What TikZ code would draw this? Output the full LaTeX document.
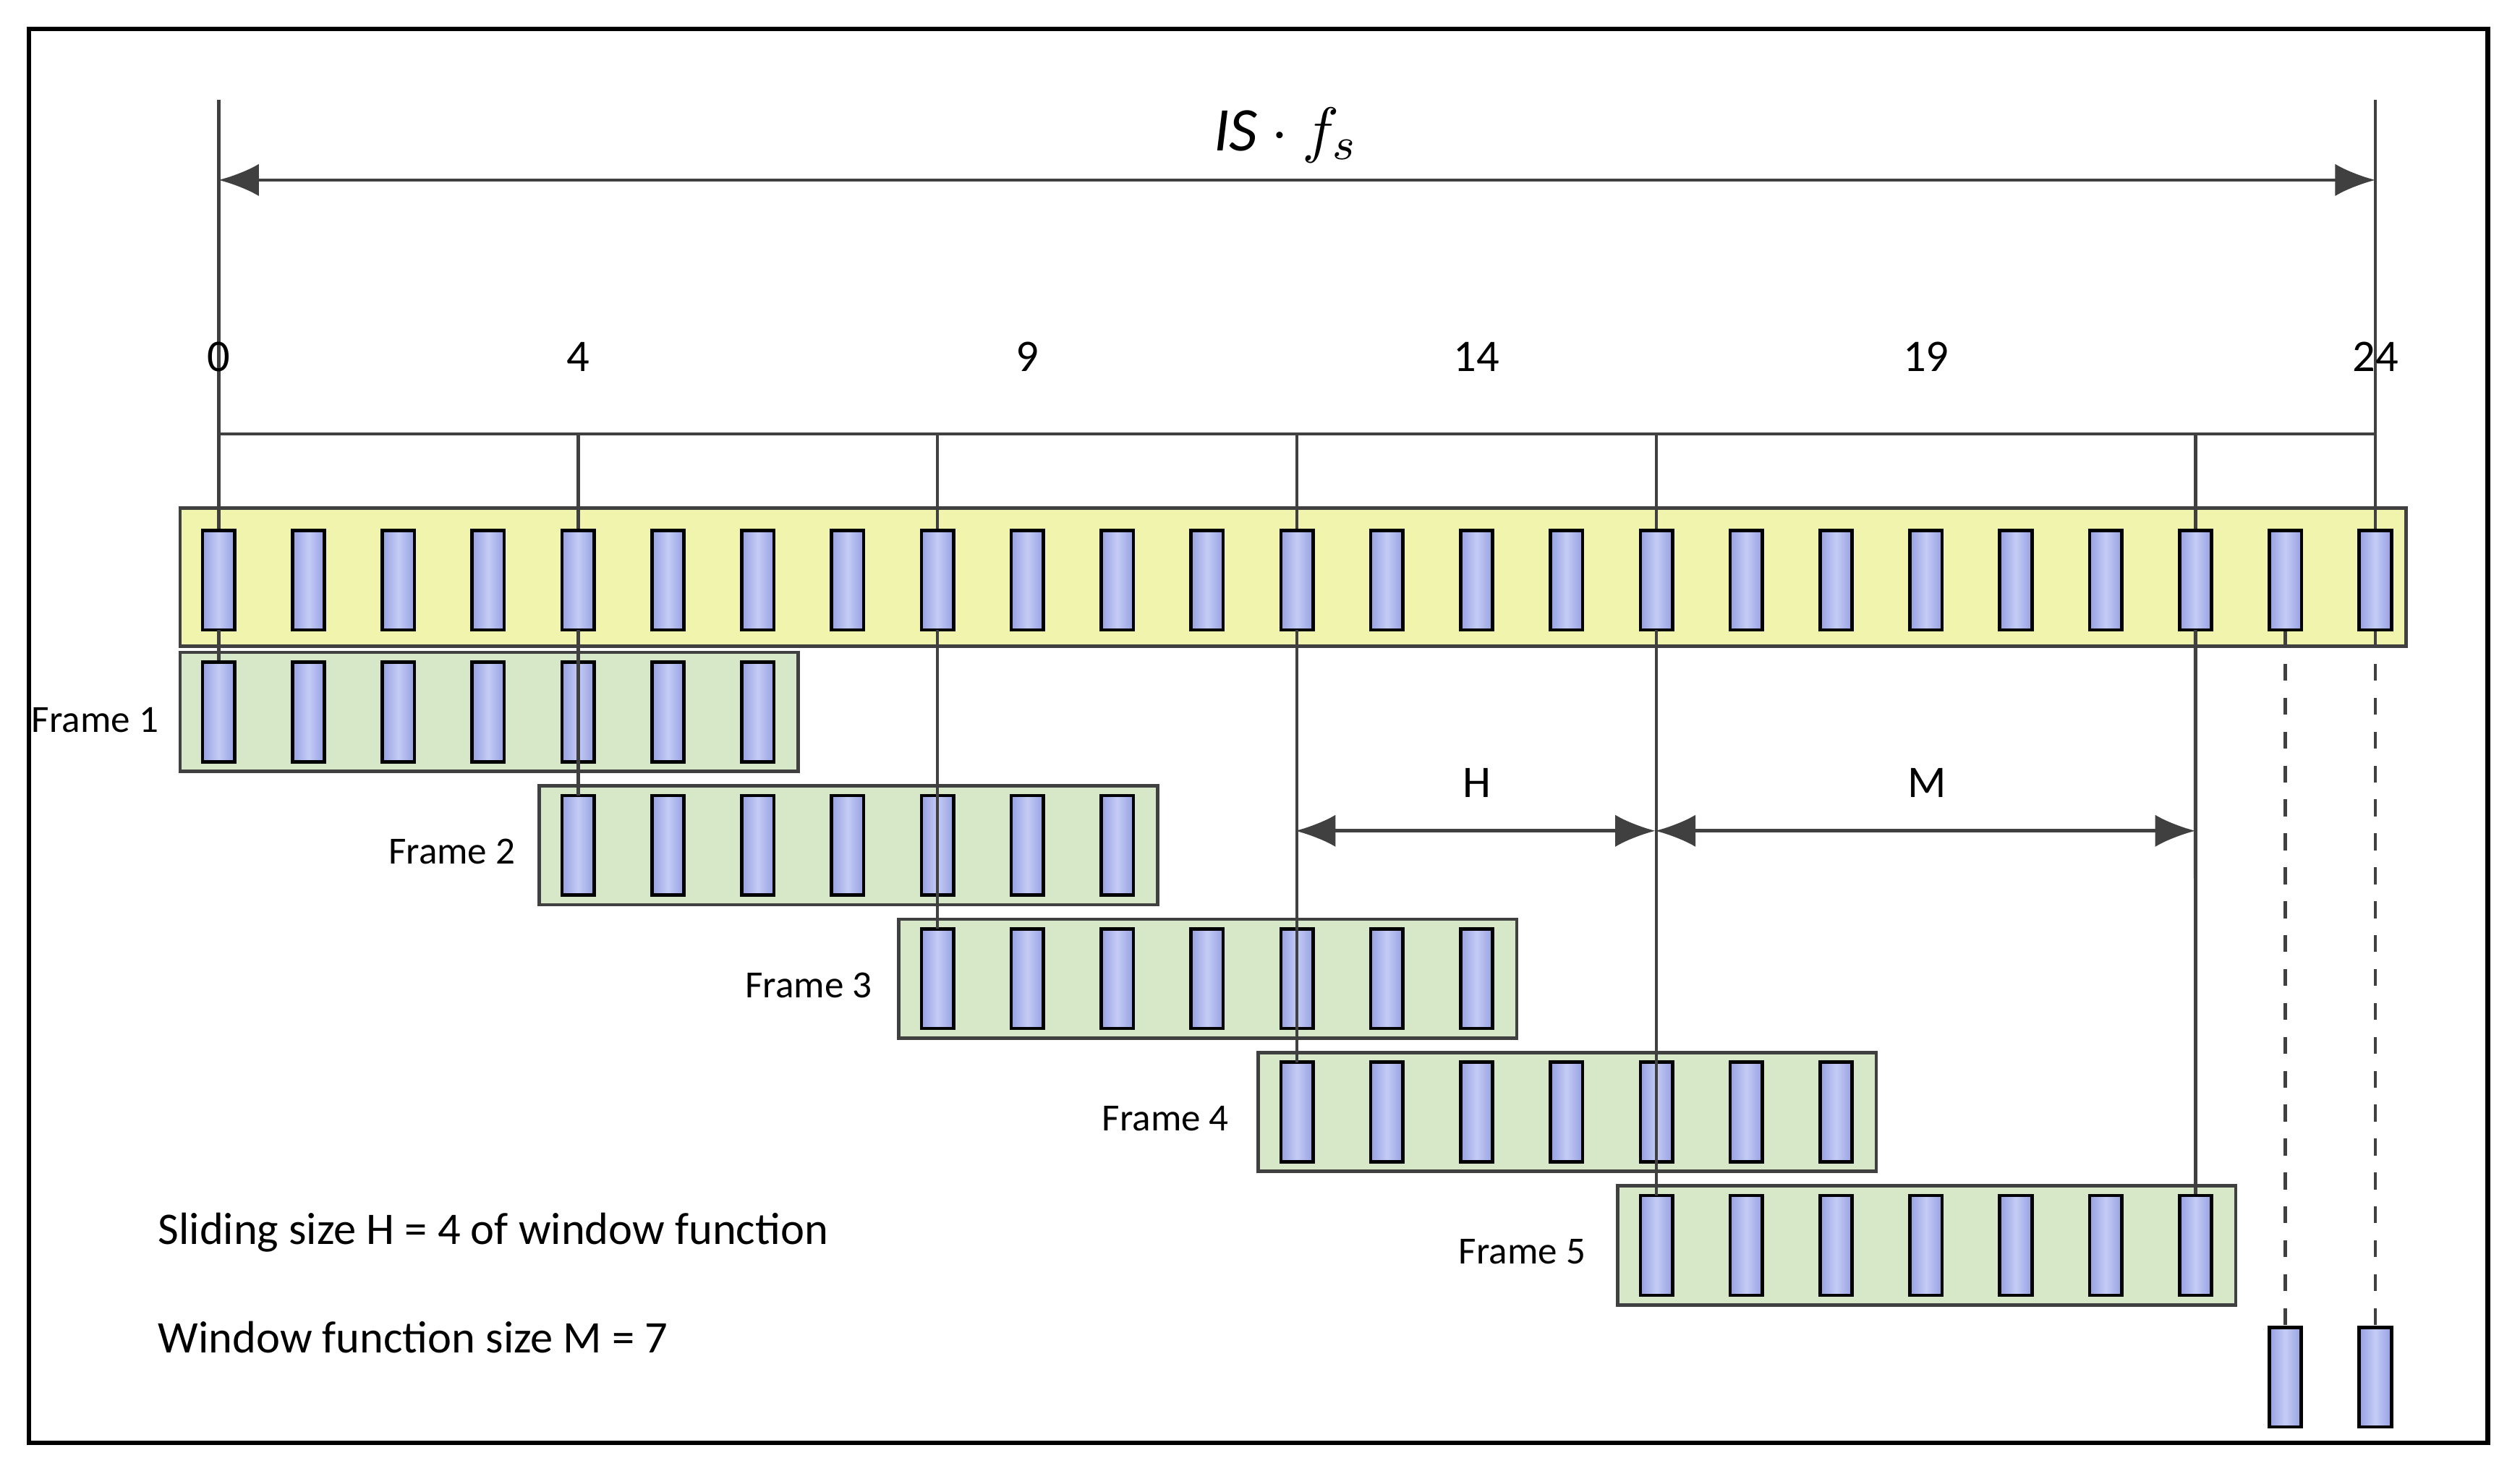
\documentclass[tikz,border=0pt]{standalone}
\usepackage{fontspec}
\setmainfont{Carlito}
\usetikzlibrary{arrows.meta}
\definecolor{ln}{RGB}{64,64,64}
\definecolor{yel}{RGB}{240,244,172}
\definecolor{grn}{RGB}{214,232,200}
\definecolor{smpA}{RGB}{196,204,245}
\definecolor{smpB}{RGB}{150,160,225}
\tikzset{
 smp/.style={draw=black,line width=0.6pt,left color=smpB,right color=smpB,middle color=smpA,minimum width=0.2cm,minimum height=0.62cm,inner sep=0pt},
 ln/.style={draw=ln,line width=0.6pt},
 arr/.style={ln,{Latex[length=0.25cm,width=0.2cm]}-{Latex[length=0.25cm,width=0.2cm]}},
 lab/.style={font=\fontsize{8}{9}\selectfont},
 flab/.style={font=\fontsize{6.8}{8}\selectfont,anchor=east},
 box/.style={draw=ln,line width=0.6pt}
}
\begin{document}
\begin{tikzpicture}[x=0.01cm,y=-0.01cm]
\useasboundingbox (0,0) rectangle (1568,920);
\draw[line width=0.8pt,fill=white] (18,18) rectangle (1548,898);
% yellow strip
\draw[box,fill=yel] (112,316) rectangle (1497,402);
% frames
\foreach \k in {0,...,4}{
  \pgfmathsetmacro{\xa}{136+55.917*4*\k-24}
  \pgfmathsetmacro{\xb}{136+55.917*(4*\k+6)+25}
  \pgfmathsetmacro{\yc}{443+83*\k}
  \draw[box,fill=grn] (\xa,\yc-37) rectangle (\xb,\yc+37);
}
% connector coordinates
\coordinate (t0) at (136,62);
\coordinate (t24) at (1478,62);
\coordinate (r0) at (136,270);
\coordinate (r24) at (1478,270);
\draw[ln] (r0) -- (r24);
\draw[ln] (t0) -- (136,412);
\draw[ln] (t24) -- (1478,330);
\foreach \i/\k in {4/1,8/2,12/3,16/4}{
  \pgfmathsetmacro{\xx}{136+55.917*\i}
  \pgfmathsetmacro{\yy}{443+83*\k-31}
  \draw[ln] (\xx,270) -- (\xx,\yy);
}
\draw[ln] (1366,270) -- (1366,744);
\draw[ln,dashed] (1422,392) -- (1422,827);
\draw[ln,dashed] (1478,392) -- (1478,827);
% samples
\foreach \i in {0,...,24}{
  \node[smp] (y\i) at ({136+55.917*\i},361) {};
}
\foreach \k in {0,...,4}{
  \foreach \j in {0,...,6}{
    \node[smp] (f\k-\j) at ({136+55.917*(4*\k+\j)},{443+83*\k}) {};
  }
}
\node[smp] (f4-7) at ({136+55.917*22},{443+83*4}) {};
\node[smp] (b23) at (1422,857) {};
\node[smp] (b24) at (1478,857) {};
% re-draw ruler verticals over samples
\draw[ln] (136,392) -- (f0-0.north);
\foreach \i/\k in {4/1,8/2,12/3,16/4}{
  \pgfmathsetmacro{\xx}{136+55.917*\i}
  \pgfmathsetmacro{\yy}{443+83*\k-31}
  \draw[ln] (\xx,392) -- (\xx,\yy);
}
\draw[ln] (1366,392) -- (f4-7.north);
% arrows
\coordinate (a0) at (136,112); \coordinate (a1) at (1478,112);
\draw[arr] (a0) -- (a1);
\node[font=\fontsize{11}{12}\selectfont\rmfamily] (isf) at (800,84) {$\mathit{IS}\cdot f_s$};
\coordinate (h0) at (806,517); \coordinate (h1) at (1030,517); \coordinate (h2) at (1366,517);
\draw[arr] (h0) -- (h1);
\draw[arr] (h1) -- (h2);
\node[lab] (H) at (919,487) {H};
\node[lab] (M) at (1199,487) {M};
% ruler labels
\foreach \v/\x in {0/136,4/359.7,9/639.3,14/918.8,19/1198.4,24/1478}{
  \node[lab] (n\v) at (\x,222) {\v};
}
% frame labels
\node[flab] (F1) at (111,448) {Frame 1};
\node[flab] (F2) at (333,530) {Frame 2};
\node[flab] (F3) at (555,613) {Frame 3};
\node[flab] (F4) at (777,696) {Frame 4};
\node[flab] (F5) at (999,779) {Frame 5};
\node[lab,anchor=west] (t1) at (86,767) {Sliding size H = 4 of window function};
\node[lab,anchor=west] (t2) at (86,832) {Window function size M = 7};
\end{tikzpicture}
\end{document}
